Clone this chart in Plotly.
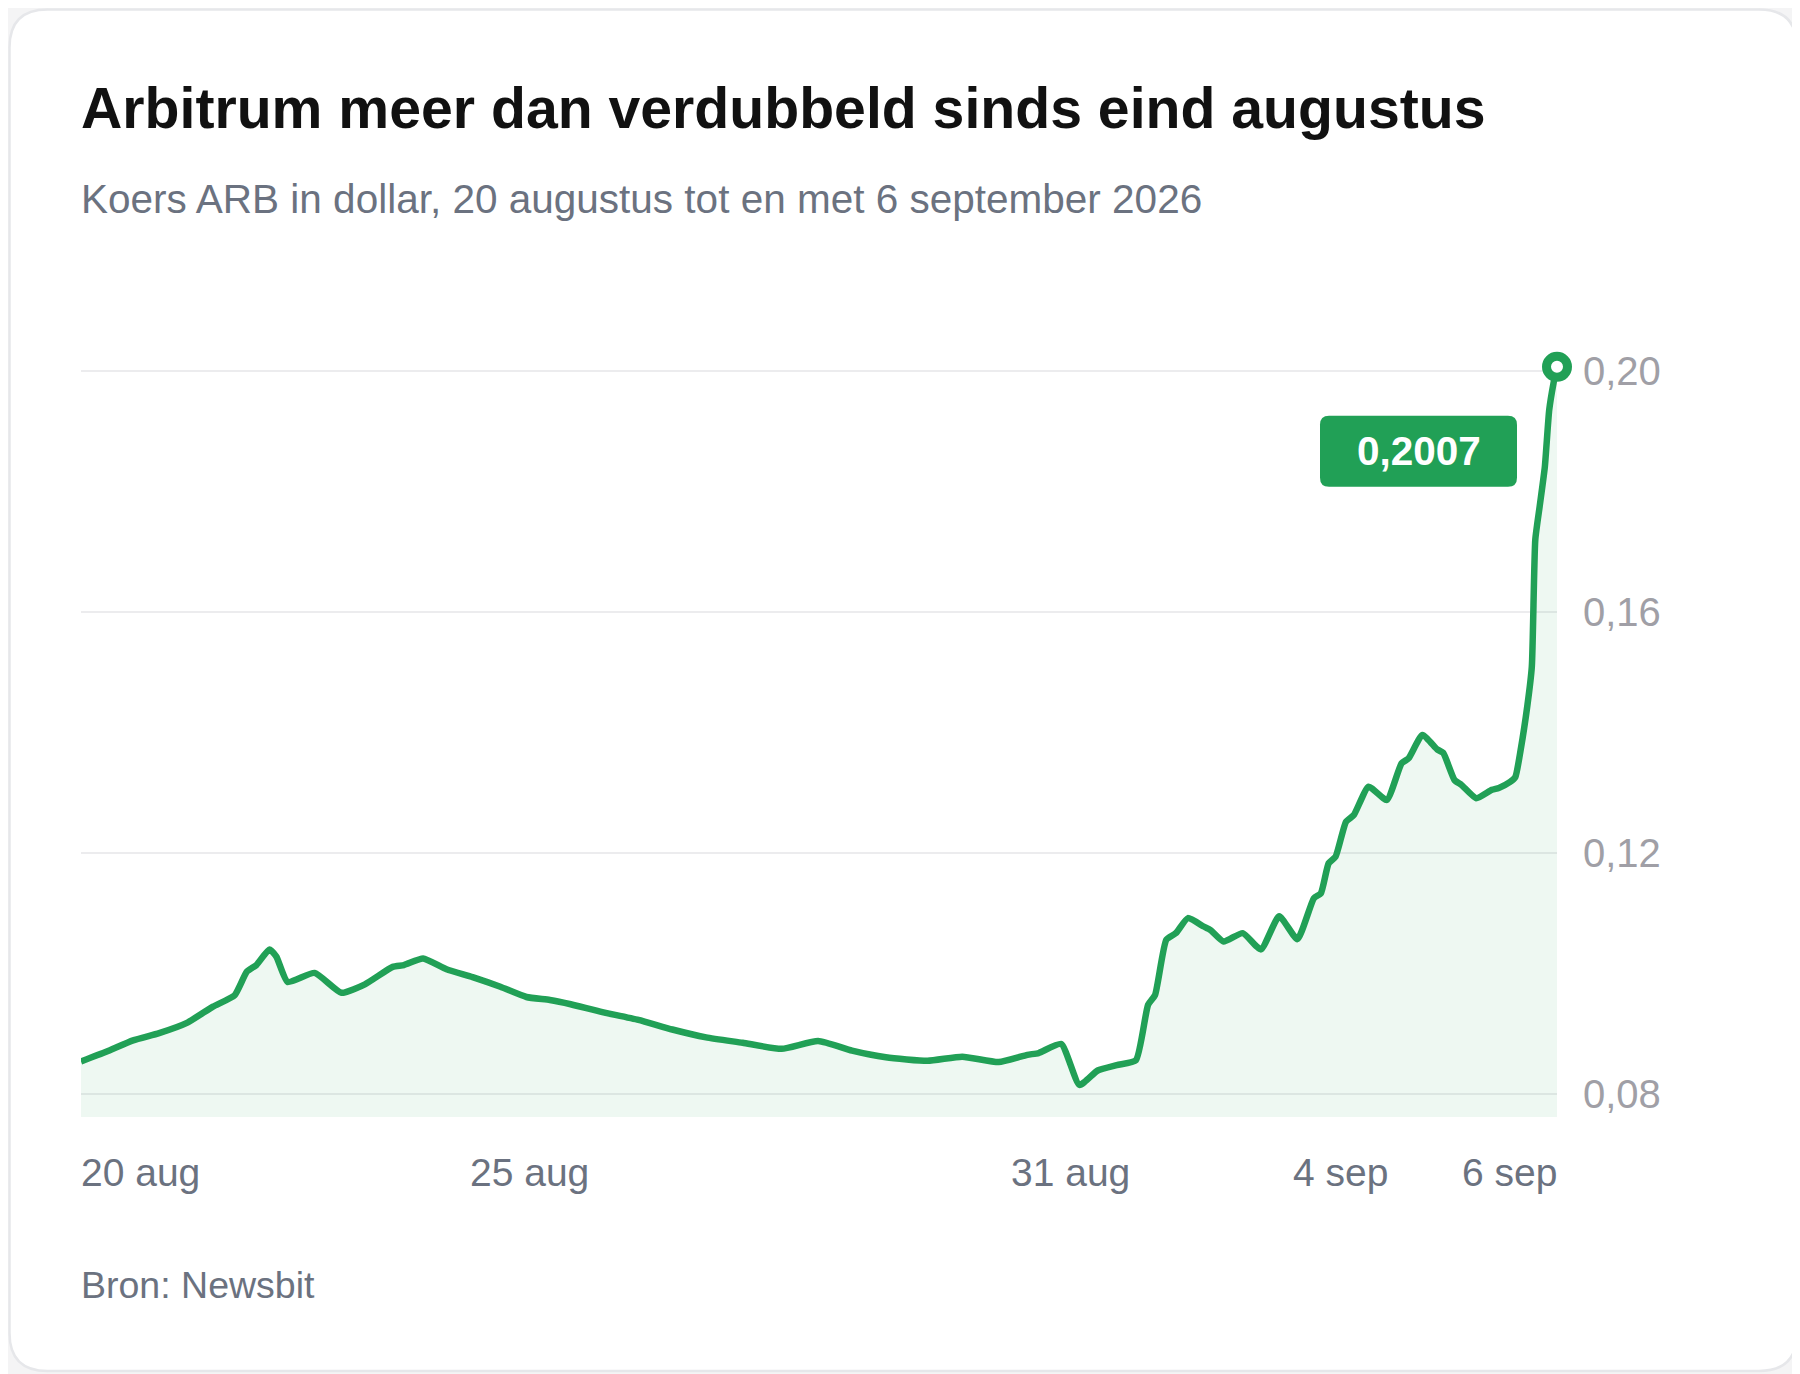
import plotly.graph_objects as go

# koers ARB in dollar; x = dagen sinds 20 augustus 2026 00:00
dagen = [0.00, 0.29, 0.60, 0.90, 1.22, 1.52, 1.77, 1.91, 2.02, 2.17, 2.25, 2.38, 2.69, 3.00,
         3.27, 3.59, 3.72, 3.94, 4.21, 4.51, 4.83, 5.13, 5.40, 5.64, 5.97, 6.42, 6.81, 7.20,
         7.62, 8.07, 8.49, 8.88, 9.27, 9.75, 10.15, 10.57, 10.90, 11.03, 11.29, 11.50, 11.71,
         11.93, 12.15, 12.29, 12.37, 12.50, 12.61, 12.75, 12.93, 13.01, 13.16, 13.38, 13.59,
         13.80, 14.01, 14.20, 14.28, 14.37, 14.45, 14.57, 14.66, 14.83, 15.04, 15.21, 15.29,
         15.45, 15.62, 15.69, 15.82, 15.90, 16.07, 16.25, 16.33, 16.46, 16.52, 16.58, 16.66,
         16.71, 16.75, 16.80, 16.86, 16.91, 16.96, 17.00]
koers = [0.0854, 0.0870, 0.0889, 0.0901, 0.0918, 0.0945, 0.0964, 0.1003, 0.1014, 0.1040,
         0.1028, 0.0986, 0.1001, 0.0968, 0.0982, 0.1011, 0.1014, 0.1025, 0.1007, 0.0994,
         0.0978, 0.0961, 0.0956, 0.0949, 0.0937, 0.0923, 0.0907, 0.0894, 0.0885, 0.0875,
         0.0888, 0.0872, 0.0861, 0.0855, 0.0862, 0.0853, 0.0865, 0.0868, 0.0883, 0.0815,
         0.0839, 0.0848, 0.0856, 0.0948, 0.0964, 0.1056, 0.1067, 0.1092, 0.1078, 0.1072,
         0.1053, 0.1067, 0.1040, 0.1095, 0.1057, 0.1125, 0.1133, 0.1183, 0.1194, 0.1252,
         0.1263, 0.1310, 0.1288, 0.1349, 0.1357, 0.1396, 0.1372, 0.1366, 0.1321, 0.1313,
         0.1291, 0.1305, 0.1308, 0.1318, 0.1326, 0.1370, 0.1446, 0.1509, 0.1720, 0.1775,
         0.1841, 0.1935, 0.1980, 0.2007]

x_tick_pos = [0, 5.17, 11.40, 14.51, 17]
x_tick_labels = ["20 aug", "25 aug", "31 aug", "4 sep", "6 sep"]
y_tick_vals = [0.08, 0.12, 0.16, 0.20]
y_tick_labels = ["0,08", "0,12", "0,16", "0,20"]

GREEN = "#21a056"
FONT = "Liberation Sans, Arial, sans-serif"

# the page puts the figure 8px in from the top-left corner
OFF = 8
W, H = 1800 - OFF, 1374 - OFF
L, R, T, B = 81 - OFF, 243, 340 - OFF, 257
pw, ph = W - L - R, H - T - B


def px(X):
    return (X - OFF - L) / pw


def py(Y):
    return (H - B - (Y - OFF)) / ph


def rounded_rect(x0, y0, x1, y1, r):
    a, b, c, d = px(x0), px(x1), py(y0), py(y1)
    rx, ry = r / pw, r / ph
    return (f"M {a+rx},{c} L {b-rx},{c} Q {b},{c} {b},{c-ry} L {b},{d+ry} Q {b},{d} {b-rx},{d} "
            f"L {a+rx},{d} Q {a},{d} {a},{d+ry} L {a},{c-ry} Q {a},{c} {a+rx},{c} Z")


fig = go.Figure()
fig.add_trace(go.Scatter(
    x=dagen, y=koers, mode="lines",
    line=dict(color=GREEN, width=6.5, shape="spline", smoothing=0.5),
    fill="tozeroy", fillcolor="rgba(33,160,86,0.075)",
    hoverinfo="skip",
))
fig.add_trace(go.Scatter(
    x=[dagen[-1]], y=[koers[-1]], mode="markers",
    marker=dict(size=21, color="white", line=dict(color=GREEN, width=9)),
    hoverinfo="skip", cliponaxis=False,
))

shapes = [
    dict(type="path", xref="paper", yref="paper", layer="below",
         path=rounded_rect(OFF + 1.5, OFF + 1.5, 1797, 1371, 38),
         fillcolor="white", line=dict(color="#e6e7ea", width=2.5)),
    # label box next to the last point (pixels relative to the point)
    dict(type="path", xref="x", yref="y", xsizemode="pixel", ysizemode="pixel",
         xanchor=dagen[-1], yanchor=koers[-1],
         path="M -228,-49 L -49,-49 Q -40,-49 -40,-58 L -40,-111 Q -40,-120 -49,-120 "
              "L -228,-120 Q -237,-120 -237,-111 L -237,-58 Q -237,-49 -228,-49 Z",
         fillcolor=GREEN, line=dict(width=0)),
]

annotations = [
    dict(text="Arbitrum meer dan verdubbeld sinds eind augustus", x=0, y=py(108),
         xref="paper", yref="paper", xanchor="left", yanchor="middle", showarrow=False,
         xshift=-2, font=dict(family=FONT, size=57.2, color="#111111", weight="bold")),
    dict(text="Koers ARB in dollar, 20 augustus tot en met 6 september 2026", x=0, y=py(199),
         xref="paper", yref="paper", xanchor="left", yanchor="middle", showarrow=False,
         xshift=-2, font=dict(family=FONT, size=40.5, color="#6b7280")),
    dict(text="Bron: Newsbit", x=0, y=py(1285),
         xref="paper", yref="paper", xanchor="left", yanchor="middle", showarrow=False,
         xshift=-2, font=dict(family=FONT, size=37.5, color="#6b7280")),
    dict(text=f"{koers[-1]:.4f}".replace(".", ","), x=dagen[-1], y=koers[-1],
         xref="x", yref="y", xshift=-138.5, yshift=-84.5, showarrow=False,
         xanchor="center", yanchor="middle",
         font=dict(family=FONT, size=40.5, color="white", weight="bold")),
]
for i, (pos, lab) in enumerate(zip(x_tick_pos, x_tick_labels)):
    anchor = "left" if i == 0 else ("right" if i == len(x_tick_pos) - 1 else "center")
    shift = -2 if anchor == "left" else (2 if anchor == "right" else 0)
    annotations.append(dict(text=lab, x=pos, y=py(1172), xref="x", yref="paper",
                            xanchor=anchor, yanchor="middle", showarrow=False, xshift=shift,
                            font=dict(family=FONT, size=39, color="#6b7280")))

fig.update_layout(
    width=W, height=H,
    margin=dict(l=L, r=R, t=T, b=B),
    paper_bgcolor="#f4f4f5", plot_bgcolor="rgba(0,0,0,0)",
    showlegend=False, hovermode=False,
    shapes=shapes, annotations=annotations,
    xaxis=dict(range=[0, 17], showgrid=False, zeroline=False, showticklabels=False,
               showline=False, fixedrange=True),
    yaxis=dict(range=[0.07618, 0.20515], side="right", tickvals=y_tick_vals,
               ticktext=y_tick_labels, showgrid=True, gridcolor="#ececee", gridwidth=2,
               zeroline=False, showline=False, ticks="", ticklabelstandoff=25,
               tickfont=dict(family=FONT, size=40, color="#a09fa6"), fixedrange=True),
)

fig.write_html("out.html")
